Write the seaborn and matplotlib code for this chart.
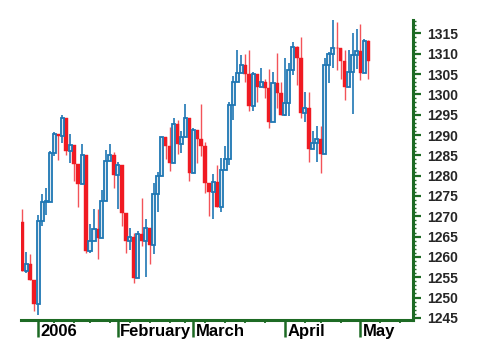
import numpy as np
import pandas as pd
import matplotlib
matplotlib.use("Agg")
import matplotlib.pyplot as plt
import matplotlib.transforms as mtransforms
import seaborn as sns

# ---- data ----
start_date = "2005-12-27"
end_date = "2006-05-03"
holidays = ["2006-01-02", "2006-01-16", "2006-02-20", "2006-04-14"]

opens = [1268.7, 1256.5, 1258.2, 1254.4, 1248.3, 1268.8, 1273.5, 1273.5, 1285.5, 1290.2,
         1289.7, 1294.2, 1286.1, 1287.6, 1282.9, 1277.9, 1285.0, 1261.5, 1263.8, 1266.9,
         1264.7, 1273.8, 1283.7, 1285.2, 1280.1, 1282.5, 1270.8, 1264.0, 1265.0, 1254.8,
         1265.7, 1263.8, 1267.0, 1262.9, 1275.5, 1280.0, 1289.4, 1287.2, 1283.0, 1292.7,
         1287.8, 1289.4, 1294.1, 1280.7, 1291.2, 1289.1, 1287.2, 1278.3, 1275.9, 1278.5,
         1272.2, 1281.4, 1284.1, 1297.5, 1303.0, 1305.3, 1307.3, 1305.1, 1297.2, 1305.0,
         1301.7, 1303.0, 1301.6, 1293.2, 1302.9, 1300.3, 1294.9, 1297.8, 1305.9, 1311.6,
         1309.0, 1295.5, 1296.6, 1286.6, 1288.1, 1289.1, 1285.3, 1307.3, 1309.9, 1311.5,
         1311.3, 1308.1, 1301.7, 1305.4, 1309.7, 1310.6, 1305.2, 1313.2]
highs = [1271.8, 1261.1, 1260.6, 1254.4, 1270.2, 1275.4, 1276.9, 1286.1, 1290.8, 1290.2,
         1294.9, 1294.2, 1290.2, 1287.6, 1282.9, 1287.8, 1285.0, 1268.2, 1271.9, 1271.9,
         1276.4, 1286.4, 1287.9, 1285.8, 1283.3, 1282.5, 1270.9, 1267.0, 1265.8, 1266.5,
         1274.6, 1269.3, 1267.0, 1278.2, 1281.0, 1289.4, 1289.5, 1291.9, 1294.2, 1293.8,
         1290.9, 1297.6, 1294.1, 1291.8, 1291.2, 1297.6, 1288.2, 1278.3, 1280.3, 1282.7,
         1284.4, 1287.4, 1298.1, 1304.4, 1310.9, 1309.8, 1310.0, 1310.9, 1305.6, 1305.1,
         1306.5, 1303.7, 1306.2, 1305.6, 1310.2, 1303.0, 1309.0, 1307.6, 1312.8, 1312.0,
         1314.1, 1300.7, 1300.7, 1290.9, 1292.1, 1292.1, 1309.0, 1310.4, 1318.2, 1317.7,
         1311.3, 1310.8, 1311.0, 1315.2, 1316.0, 1317.2, 1313.7, 1313.5]
lows = [1256.5, 1256.0, 1254.2, 1246.6, 1245.7, 1267.7, 1270.3, 1273.5, 1284.8, 1283.8,
        1288.0, 1285.0, 1283.0, 1278.6, 1272.2, 1277.9, 1260.9, 1261.0, 1263.8, 1259.4,
        1264.7, 1273.8, 1283.5, 1276.9, 1271.9, 1267.7, 1261.0, 1261.6, 1253.6, 1254.8,
        1262.8, 1255.0, 1258.3, 1260.8, 1271.1, 1280.0, 1284.2, 1281.2, 1283.0, 1285.4,
        1285.6, 1289.4, 1278.7, 1280.7, 1283.2, 1284.8, 1275.7, 1270.0, 1269.3, 1272.2,
        1271.1, 1281.4, 1282.7, 1293.6, 1303.0, 1305.3, 1303.0, 1295.8, 1295.8, 1298.1,
        1301.7, 1299.1, 1291.8, 1293.2, 1296.7, 1294.9, 1294.7, 1294.7, 1304.8, 1302.4,
        1294.2, 1293.2, 1283.4, 1286.5, 1283.4, 1280.7, 1285.3, 1302.8, 1306.4, 1306.0,
        1303.8, 1298.7, 1301.7, 1295.2, 1306.2, 1303.5, 1305.2, 1303.9]
closes = [1256.5, 1258.2, 1254.4, 1248.3, 1268.8, 1273.5, 1273.5, 1285.5, 1290.2, 1289.7,
          1294.2, 1286.1, 1287.6, 1282.9, 1277.9, 1285.0, 1261.5, 1263.8, 1266.9, 1264.7,
          1273.8, 1283.7, 1285.2, 1280.1, 1282.5, 1270.8, 1264.0, 1265.0, 1254.8, 1265.7,
          1263.8, 1267.0, 1262.9, 1275.5, 1280.0, 1289.4, 1287.2, 1283.0, 1292.7, 1287.8,
          1289.4, 1294.1, 1280.7, 1291.2, 1289.1, 1287.2, 1278.3, 1275.9, 1278.5, 1272.2,
          1281.4, 1284.1, 1297.5, 1303.0, 1305.3, 1307.3, 1305.1, 1297.2, 1305.0, 1301.7,
          1303.0, 1301.6, 1293.2, 1302.9, 1300.3, 1294.9, 1297.8, 1305.9, 1311.6, 1309.0,
          1295.5, 1296.6, 1286.6, 1288.1, 1289.1, 1285.3, 1307.3, 1309.9, 1311.5, 1311.3,
          1308.1, 1301.7, 1305.4, 1309.7, 1310.6, 1305.2, 1313.2, 1308.1]

y_ticks = list(range(1245, 1320, 5))
month_labels = ["2006", "February", "March", "April", "May"]

# ---- build table ----
dates = pd.bdate_range(start_date, end_date)
dates = dates[~dates.isin(pd.to_datetime(holidays))]
future = pd.bdate_range("2006-05-04", "2006-05-19")
all_dates = dates.append(future)
df = pd.DataFrame({"date": dates, "open": opens, "high": highs, "low": lows, "close": closes})
df["pos"] = np.arange(len(df))
df["up"] = df["close"] >= df["open"]

cal = pd.DataFrame({"date": all_dates, "pos": np.arange(len(all_dates))})
cal["week"] = cal["date"].dt.isocalendar().week
cal["month"] = cal["date"].dt.month
week_starts = cal.loc[cal["week"] != cal["week"].shift(), "pos"].tolist()
month_starts = cal.loc[(cal["month"] != cal["month"].shift()) & (cal["date"] >= "2006-01-01"), "pos"].tolist()

# ---- style ----
sns.set_style("white")
plt.rcParams["font.family"] = ["Liberation Sans", "DejaVu Sans"]

BLUE = "#1f77b4"
RED = "#f01a22"
FILL = "#dfe9f1"
GREEN = "#1d6a24"

fig = plt.figure(figsize=(4.81, 3.6), dpi=100)
ax = fig.add_axes([21 / 481, 40.5 / 360, (413 - 21) / 481, (319.5 - 20) / 360])

up = df[df["up"]]
dn = df[~df["up"]]

# wicks
ax.vlines(dn["pos"], dn["low"], dn["high"], color=RED, lw=1.0, alpha=0.75, zorder=2)
ax.vlines(up["pos"], up["low"], up["high"], color=BLUE, lw=1.2, zorder=2)
# bodies
ax.bar(dn["pos"], dn["open"] - dn["close"], bottom=dn["close"], width=0.95,
       color=RED, edgecolor=RED, linewidth=0.3, zorder=3)
ax.bar(up["pos"], (up["close"] - up["open"]).clip(lower=0.35), bottom=up["open"], width=0.78,
       color=FILL, edgecolor=BLUE, linewidth=1.3, zorder=4)

ax.set_xlim(-0.35, 98.2)
ax.set_ylim(1244.6, 1318.3)

# spines
for s in ["left", "top"]:
    ax.spines[s].set_visible(False)
for s in ["bottom", "right"]:
    ax.spines[s].set_color(GREEN)
    ax.spines[s].set_linewidth(2.2)

# y axis on right
ax.yaxis.tick_right()
ax.set_yticks(y_ticks)
ax.set_yticks(np.arange(1245, 1319, 1), minor=True)
ax.set_yticklabels([str(v) for v in y_ticks], fontsize=10, fontweight="bold")
ax.tick_params(axis="y", which="both", left=False, right=True)
ax.tick_params(axis="y", which="major", length=5.5, width=1.6, color=GREEN, pad=5, direction="out")
ax.tick_params(axis="y", which="minor", length=2.4, width=1.0, color=GREEN, direction="out")

# x axis
ax.set_xticks(month_starts)
ax.set_xticklabels([""] * len(month_starts))
ax.set_xticks(week_starts, minor=True)
ax.tick_params(axis="x", which="both", bottom=True, top=False)
ax.tick_params(axis="x", which="major", length=12, width=1.8, color=GREEN, direction="out")
ax.tick_params(axis="x", which="minor", length=2.5, width=1.3, color=GREEN, direction="out")
trans = mtransforms.blended_transform_factory(ax.transData, ax.transAxes)
for p, lab in zip(month_starts, month_labels):
    ax.text(p + 0.6, -0.041, lab, transform=trans, ha="left", va="center",
            fontsize=12, fontweight="bold", color="black")

ax.grid(False)
fig.savefig("out.png", dpi=100, facecolor="white")
